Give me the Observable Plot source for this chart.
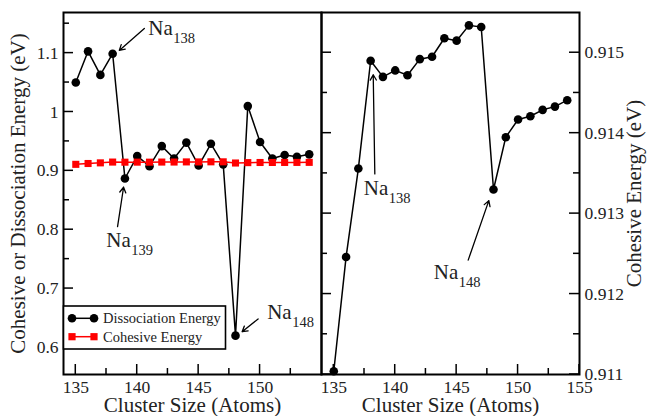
<!DOCTYPE html>
<html>
<head>
<meta charset="utf-8">
<script src="https://cdn.jsdelivr.net/npm/d3@7"></script>
<script src="https://cdn.jsdelivr.net/npm/@observablehq/plot@0.6"></script>
<style>
  html, body { margin: 0; padding: 0; background: #fff; }
  #wrap { position: relative; width: 647px; height: 416px; font-family: "Liberation Serif", "Times New Roman", serif; }
  #wrap > svg { position: absolute; left: 0; top: 0; }
</style>
</head>
<body>
<div id="wrap"></div>
<script>
// ---- data ----
const clusterSizes = [135,136,137,138,139,140,141,142,143,144,145,146,147,148,149,150,151,152,153,154];
const dissociationEnergy = [1.050,1.103,1.063,1.099,0.887,0.925,0.908,0.942,0.921,0.948,0.909,0.946,0.911,0.620,1.010,0.949,0.921,0.927,0.924,0.928];
const cohesiveEnergy = [0.91104,0.91246,0.91356,0.91490,0.91470,0.91478,0.91472,0.91492,0.91495,0.91518,0.91515,0.91534,0.91532,0.91330,0.91395,0.91417,0.91421,0.91429,0.91433,0.91441];

const xMajorLeft = [135,140,145,150];
const xMajorRight = [135,140,145,150,155];
const xMinor = [137.5,142.5,147.5,152.5];
const yMajorLeft = [0.6,0.7,0.8,0.9,1.0,1.1];
const yMinorLeft = [0.65,0.75,0.85,0.95,1.05,1.15];
const yMajorRight = [0.911,0.912,0.913,0.914,0.915];
const yMinorRight = [0.9115,0.9125,0.9135,0.9145];

const xTitle = "Cluster Size (Atoms)";
const yTitleLeft = "Cohesive or Dissociation Energy (eV)";
const yTitleRight = "Cohesive Energy (eV)";
const legendLabels = ["Dissociation Energy", "Cohesive Energy"];

// annotations (data coordinates)
const leftLabels = [
  {name: "Na", sub: "138", x: 140.90, y: 1.130},
  {name: "Na", sub: "139", x: 137.48, y: 0.770},
  {name: "Na", sub: "148", x: 150.58, y: 0.648}
];
const leftArrows = [
  {x1: 140.58, y1: 1.142, x2: 138.54, y2: 1.1046},
  {x1: 138.40, y1: 0.8053, x2: 138.89, y2: 0.8721},
  {x1: 149.84, y1: 0.6483, x2: 148.54, y2: 0.6267}
];
const rightLabels = [
  {name: "Na", sub: "138", x: 137.44, y: 0.913232},
  {name: "Na", sub: "148", x: 143.14, y: 0.912186}
];
const rightArrows = [
  {x1: 138.34, y1: 0.913493, x2: 138.21, y2: 0.914726},
  {x1: 145.94, y1: 0.912422, x2: 147.62, y2: 0.913161}
];

const leftData = clusterSizes.map((x, i) => ({x, d: dissociationEnergy[i], c: cohesiveEnergy[i]}));

const FONT = '"Liberation Serif", "Times New Roman", serif';
const fmt = d => String(+d.toFixed(4));
const W = 647, H = 416, MT = 12, MB = 42;
const FRAME_W = 258;
const X_DOMAIN = [134, 155];
const Y_LEFT = [0.554, 1.169];
const Y_RIGHT = [0.911, 0.9155];

function labelMarks(labels) {
  return [
    Plot.text(labels, {x: "x", y: "y", text: "name", textAnchor: "start", lineAnchor: "bottom", fontSize: 21, fill: "#222"}),
    Plot.text(labels, {x: "x", y: "y", text: "sub", textAnchor: "start", lineAnchor: "bottom", fontSize: 14.5, dx: 25, dy: 8, fill: "#222"})
  ];
}
function xLabels(values) {
  return Plot.axisX(values, {tickSize: 0, tickPadding: 6, fontSize: 17.5, tickFormat: fmt, label: null, fill: "#222"});
}
function yLabels(values, anchor) {
  return Plot.axisY(values, {anchor, tickSize: 0, tickPadding: 5, fontSize: 17.5, tickFormat: fmt, label: null, fill: "#222"});
}

const left = Plot.plot({
  width: W, height: H,
  marginLeft: 63, marginRight: W - 63 - FRAME_W, marginTop: MT, marginBottom: MB,
  style: {fontFamily: FONT, background: "transparent", overflow: "visible"},
  x: {domain: X_DOMAIN, label: null},
  y: {domain: Y_LEFT, label: null},
  marks: [
    xLabels(xMajorLeft),
    yLabels(yMajorLeft, "left"),
    Plot.line(leftData, {x: "x", y: "d", stroke: "black", strokeWidth: 1.5}),
    Plot.dot(leftData, {x: "x", y: "d", r: 4.3, fill: "black"}),
    Plot.line(leftData, {x: "x", y: "c", stroke: "#ff0000", strokeWidth: 1.5}),
    Plot.dot(leftData, {x: "x", y: "c", r: 4, symbol: "square", fill: "#ff0000"}),
    Plot.arrow(leftArrows, {x1: "x1", y1: "y1", x2: "x2", y2: "y2", stroke: "black", strokeWidth: 1.3, headLength: 7}),
    ...labelMarks(leftLabels),
    Plot.text([xTitle], {frameAnchor: "bottom", dy: 31, textAnchor: "middle", lineAnchor: "middle", fontSize: 21, fill: "#222"}),
    Plot.text([yTitleLeft], {frameAnchor: "left", dx: -45, rotate: -90, textAnchor: "middle", lineAnchor: "middle", fontSize: 21, fill: "#222"}),
    Plot.frame({stroke: "black", strokeWidth: 2})
  ]
});

const right = Plot.plot({
  width: W, height: H,
  marginLeft: 321, marginRight: W - 321 - FRAME_W, marginTop: MT, marginBottom: MB,
  style: {fontFamily: FONT, background: "transparent", overflow: "visible"},
  x: {domain: X_DOMAIN, label: null},
  y: {domain: Y_RIGHT, label: null},
  marks: [
    xLabels(xMajorRight),
    yLabels(yMajorRight, "right"),
    Plot.line(leftData, {x: "x", y: "c", stroke: "black", strokeWidth: 1.5}),
    Plot.dot(leftData, {x: "x", y: "c", r: 4.3, fill: "black"}),
    Plot.arrow(rightArrows, {x1: "x1", y1: "y1", x2: "x2", y2: "y2", stroke: "black", strokeWidth: 1.3, headLength: 7}),
    ...labelMarks(rightLabels),
    Plot.text([xTitle], {frameAnchor: "bottom", dy: 31, textAnchor: "middle", lineAnchor: "middle", fontSize: 21, fill: "#222"}),
    Plot.text([yTitleRight], {frameAnchor: "right", dx: 55, rotate: -90, textAnchor: "middle", lineAnchor: "middle", fontSize: 21, fill: "#222"}),
    Plot.frame({stroke: "black", strokeWidth: 2})
  ]
});

const wrap = document.getElementById("wrap");
wrap.appendChild(left);
wrap.appendChild(right);

// overlay: inward tick marks (positioned with Plot's own scales) and legend
const ov = d3.create("svg").attr("width", W).attr("height", H)
  .style("position", "absolute").style("left", "0px").style("top", "0px")
  .style("font-family", FONT);

function drawTicks(chart, xMaj, yMaj, yMin, sides) {
  const sx = chart.scale("x"), sy = chart.scale("y");
  const [x0, x1] = sx.range;
  const yb = Math.max(...sy.range);
  const g = ov.append("g").attr("stroke", "black").attr("stroke-width", 1.5);
  for (const [vals, len] of [[xMaj, 10], [xMinor, 6]]) {
    for (const v of vals) {
      const px = sx.apply(v);
      g.append("line").attr("x1", px).attr("x2", px).attr("y1", yb).attr("y2", yb - len);
    }
  }
  for (const [vals, len] of [[yMaj, 10], [yMin, 6]]) {
    for (const v of vals) {
      const py = sy.apply(v);
      if (sides.includes("left")) g.append("line").attr("x1", x0).attr("x2", x0 + len).attr("y1", py).attr("y2", py);
      if (sides.includes("right")) g.append("line").attr("x1", x1).attr("x2", x1 - len).attr("y1", py).attr("y2", py);
    }
  }
}
drawTicks(left, xMajorLeft, yMajorLeft, yMinorLeft, ["left"]);
drawTicks(right, xMajorRight, yMajorRight, yMinorRight, ["left", "right"]);

ov.append("rect").attr("x", 63.5).attr("y", 306).attr("width", 162).attr("height", 43)
  .attr("fill", "white").attr("stroke", "black").attr("stroke-width", 1.6);
const entries = [
  {label: legendLabels[0], color: "black", shape: "circle", y: 318.3},
  {label: legendLabels[1], color: "#ff0000", shape: "square", y: 336.7}
];
for (const e of entries) {
  ov.append("line").attr("x1", 72).attr("x2", 94).attr("y1", e.y).attr("y2", e.y)
    .attr("stroke", e.color).attr("stroke-width", 1.5);
  for (const cx of [72, 94]) {
    if (e.shape === "circle") ov.append("circle").attr("cx", cx).attr("cy", e.y).attr("r", 4.3).attr("fill", e.color);
    else ov.append("rect").attr("x", cx - 3.6).attr("y", e.y - 3.6).attr("width", 7.2).attr("height", 7.2).attr("fill", e.color);
  }
  ov.append("text").attr("x", 103).attr("y", e.y).attr("dy", "0.34em")
    .attr("font-size", 14.5).attr("fill", "#222").text(e.label);
}
wrap.appendChild(ov.node());
</script>
</body>
</html>
